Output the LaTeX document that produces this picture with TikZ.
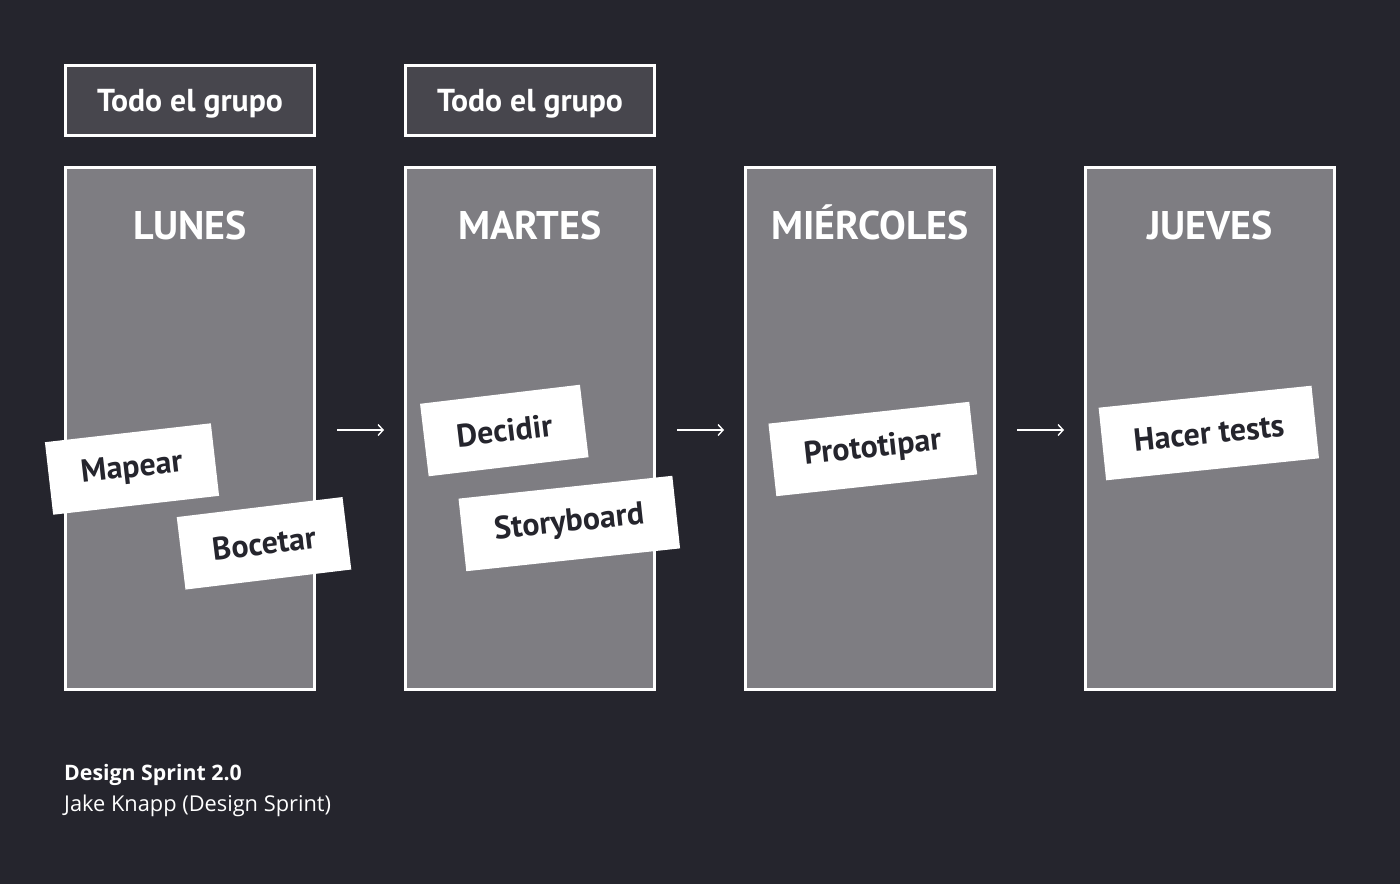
\documentclass[tikz,border=0pt]{standalone}
\usepackage{fontspec}
\setmainfont{PT Sans}
\newfontfamily\footfont{Open Sans}
\usetikzlibrary{arrows.meta,calc}
\definecolor{bgc}{RGB}{37,37,45}
\definecolor{colc}{RGB}{126,125,130}
\definecolor{topc}{RGB}{71,70,77}
\definecolor{inkc}{RGB}{37,37,45}
\begin{document}
\begin{tikzpicture}[x=1pt,y=-1pt,
  colbox/.style={draw=white,line width=3pt,fill=colc,minimum width=249pt,minimum height=522pt,inner sep=0pt},
  topbox/.style={draw=white,line width=3pt,fill=topc,minimum width=249pt,minimum height=70pt,inner sep=0pt},
  toptext/.style={text=white,font=\bfseries\fontsize{31.7}{36}\selectfont,inner sep=0pt,anchor=base},
  dayhead/.style={text=white,font=\bfseries\fontsize{40}{46}\selectfont,inner sep=0pt,anchor=base},
  note/.style={fill=white,minimum height=73pt,inner sep=0pt,text=inkc,
     font=\bfseries\fontsize{32}{36}\selectfont},
  arr/.style={draw=white,line width=1.4pt,-{Straight Barb[length=5pt,width=11pt,line width=1.4pt]}},
  foot/.style={text=white,inner sep=0pt,anchor=base west}
]
\path[fill=bgc] (0,0) rectangle (1400,884);
\useasboundingbox (0,0) rectangle (1400,884);

% top group boxes
\node[topbox] (t1) at (190,100.5) {};
\node[topbox] (t2) at (530,100.5) {};
\node[toptext] (tt1) at (190,111) {Todo el grupo};
\node[toptext] (tt2) at (530,111) {Todo el grupo};

% day columns
\node[colbox] (lun) at (190,428.5) {};
\node[colbox] (mar) at (530,428.5) {};
\node[colbox] (mie) at (870,428.5) {};
\node[colbox] (jue) at (1210,428.5) {};

\node[dayhead] (hlun) at (190,239) {LUNES};
\node[dayhead] (hmar) at (530,239) {MARTES};
\node[dayhead] (hmie) at (870,239) {MIÉRCOLES};
\node[dayhead] (hjue) at (1210,239) {JUEVES};

% arrows
\draw[arr] ($(lun.east)+(21,1.5)$) -- ($(mar.west)+(-20,1.5)$);
\draw[arr] ($(mar.east)+(21,1.5)$) -- ($(mie.west)+(-20,1.5)$);
\draw[arr] ($(mie.east)+(21,1.5)$) -- ($(jue.west)+(-20,1.5)$);

% sticky notes
\node[note,minimum width=167pt,rotate=6.5] (n1) at (132,469) {Mapear};
\node[note,minimum width=167pt,rotate=6.9] (n2) at (264,543.3) {Bocetar};
\node[note,minimum width=161pt,rotate=6.8] (n3) at (504.3,430.5) {Decidir};
\node[note,minimum width=215pt,rotate=6.1] (n4) at (569.3,523.5) {Storyboard};
\node[note,minimum width=202pt,rotate=6.2] (n5) at (872.8,449) {Prototipar};
\node[note,minimum width=214pt,rotate=5.9] (n6) at (1208.8,433) {Hacer tests};

% footer
\node[foot,font=\footfont\bfseries\fontsize{21.3}{25}\selectfont] (f1) at (64,780) {Design Sprint 2.0};
\node[foot,font=\footfont\fontsize{21.8}{25}\selectfont] (f2) at (64,811) {Jake Knapp (Design Sprint)};
\end{tikzpicture}
\end{document}
